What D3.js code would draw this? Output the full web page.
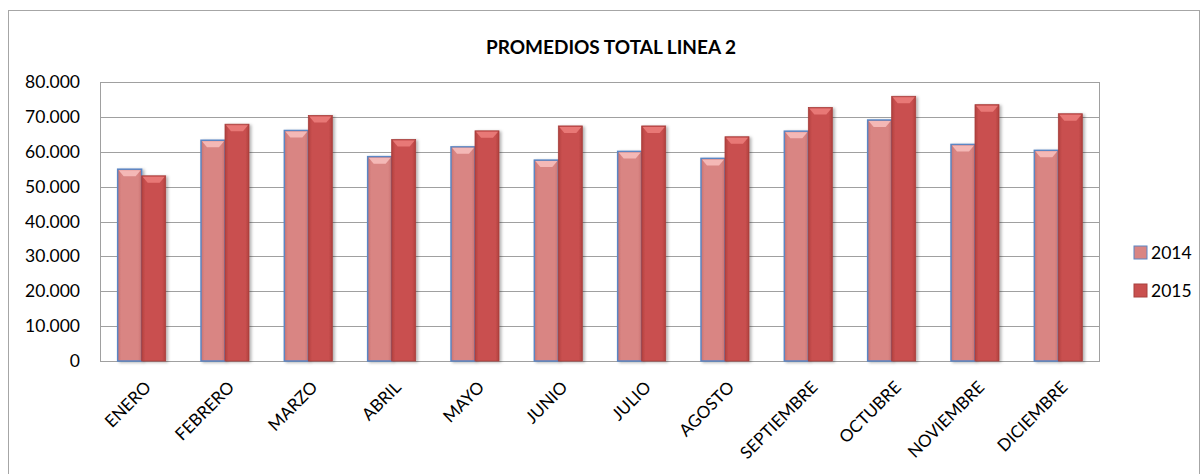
<!DOCTYPE html>
<html lang="es">
<head>
<meta charset="utf-8">
<title>Promedios total linea 2</title>
<script src="https://d3js.org/d3.v7.min.js"></script>
<style>
  body { margin: 0; background: #fff; }
  text { font-family: Lato, "Open Sans", sans-serif; fill: #000; }
</style>
</head>
<body>
<script>
// data
var meses = ["ENERO","FEBRERO","MARZO","ABRIL","MAYO","JUNIO","JULIO","AGOSTO","SEPTIEMBRE","OCTUBRE","NOVIEMBRE","DICIEMBRE"];
var series = ["2014","2015"];
var v2014 = [55000,63300,66100,58600,61400,57600,60100,58100,65900,69100,62100,60400];
var v2015 = [53100,67900,70400,63500,66000,67400,67400,64300,72700,75900,73500,70900];
var yTicks = [0,10000,20000,30000,40000,50000,60000,70000,80000];

var w = 1202, h = 474;
var pLeft = 100, pRight = 1100, pTop = 82, pBottom = 361;

var svg = d3.select("body").append("svg").attr("width", w).attr("height", h);

// gradients + shadow
var defs = svg.append("defs");
function grad(id, edge, mid) {
  var g = defs.append("linearGradient").attr("id", id).attr("x1", "0").attr("x2", "1").attr("y1", "0").attr("y2", "0");
  g.append("stop").attr("offset", "0%").attr("stop-color", edge);
  g.append("stop").attr("offset", "15%").attr("stop-color", mid);
  g.append("stop").attr("offset", "85%").attr("stop-color", mid);
  g.append("stop").attr("offset", "100%").attr("stop-color", edge);
}
grad("g2014", "#c97270", "#d98583");
grad("g2015", "#b03f3d", "#c9504f");
var f = defs.append("filter").attr("id", "sh").attr("x", "-20%").attr("y", "-5%").attr("width", "150%").attr("height", "115%");
f.append("feDropShadow").attr("dx", 2).attr("dy", 1).attr("stdDeviation", 1.5).attr("flood-color", "#000").attr("flood-opacity", 0.3);

// outer frame
svg.append("rect").attr("x", 8.5).attr("y", 10.5).attr("width", 1191).attr("height", 470)
  .attr("fill", "none").attr("stroke", "#a6a6a6").attr("stroke-width", 1);

// title
svg.append("text").attr("x", 611).attr("y", 54).attr("text-anchor", "middle")
  .style("font-size", "19px").style("font-weight", "bold").text("PROMEDIOS TOTAL LINEA 2");

// scales
var x0 = d3.scaleBand().domain(meses).range([pLeft, pRight]).paddingInner(0.424).paddingOuter(0.212);
var x1 = d3.scaleBand().domain(series).range([0, x0.bandwidth()]);
var y = d3.scaleLinear().domain([0, 80000]).range([pBottom, pTop]);

// gridlines
svg.append("g").selectAll("line").data(yTicks).join("line")
  .attr("x1", pLeft).attr("x2", pRight)
  .attr("y1", function(d){ return Math.round(y(d)) + 0.5; })
  .attr("y2", function(d){ return Math.round(y(d)) + 0.5; })
  .attr("stroke", "#a0a0a0").attr("stroke-width", 1);
svg.append("line").attr("x1", pLeft + 0.5).attr("x2", pLeft + 0.5).attr("y1", pTop).attr("y2", pBottom)
  .attr("stroke", "#a0a0a0");
svg.append("line").attr("x1", pRight - 0.5).attr("x2", pRight - 0.5).attr("y1", pTop).attr("y2", pBottom)
  .attr("stroke", "#a0a0a0");

// y axis
var yAxis = d3.axisLeft(y).tickValues(yTicks).tickSize(0).tickPadding(20)
  .tickFormat(function(d){ return d === 0 ? "0" : d3.format(",.3f")(d / 1000).replace(",", ""); });
var gy = svg.append("g").attr("transform", "translate(" + pLeft + ",0)").call(yAxis);
gy.select(".domain").remove();
gy.selectAll("text").style("font-size", "17.5px").style("font-family", "Lato, 'Open Sans', sans-serif").attr("fill", "#000");

// bars
var rows = meses.map(function(m, i){ return {mes: m, vals: [{s: "2014", v: v2014[i]}, {s: "2015", v: v2015[i]}]}; });
var groups = svg.append("g").selectAll("g").data(rows).join("g")
  .attr("transform", function(d){ return "translate(" + x0(d.mes) + ",0)"; });
var bars = groups.selectAll("g").data(function(d){ return d.vals; }).join("g");
bars.append("rect")
  .attr("x", function(d){ return x1(d.s); })
  .attr("y", function(d){ return y(d.v); })
  .attr("width", x1.bandwidth())
  .attr("height", function(d){ return pBottom - y(d.v); })
  .attr("fill", function(d){ return d.s === "2014" ? "url(#g2014)" : "url(#g2015)"; })
  .attr("stroke", function(d){ return d.s === "2014" ? "#5b86c4" : "#a8403e"; })
  .attr("stroke-width", function(d){ return d.s === "2014" ? 1.5 : 0.8; })
  .attr("filter", "url(#sh)");
// top bevel
bars.append("path")
  .attr("d", function(d){
    var x = x1(d.s) + 1, yy = y(d.v) + 1, bw = x1.bandwidth() - 2;
    return "M" + x + "," + yy + "L" + (x + bw) + "," + yy + "L" + (x + bw - 5) + "," + (yy + 6) + "L" + (x + 5) + "," + (yy + 6) + "Z";
  })
  .attr("fill", function(d){ return d.s === "2014" ? "#f4b8b6" : "#e87876"; });

// x labels
svg.append("g").selectAll("text").data(meses).join("text")
  .attr("transform", function(d){ return "translate(" + (x0(d) + x0.bandwidth() / 2 + 2) + ",380) rotate(-45)"; })
  .attr("text-anchor", "end").attr("dy", "0.7em")
  .style("font-size", "17px").text(function(d){ return d; });

// legend
var leg = svg.append("g").selectAll("g").data(series).join("g")
  .attr("transform", function(d, i){ return "translate(1134," + (246 + i * 38) + ")"; });
leg.append("rect").attr("width", 13).attr("height", 13)
  .attr("fill", function(d){ return d === "2014" ? "#d98583" : "#c9504f"; })
  .attr("stroke", function(d){ return d === "2014" ? "#5b86c4" : "#a8403e"; });
leg.append("text").attr("x", 17).attr("y", 7).attr("dy", "0.35em")
  .style("font-size", "17.5px").text(function(d){ return d; });
</script>
</body>
</html>
